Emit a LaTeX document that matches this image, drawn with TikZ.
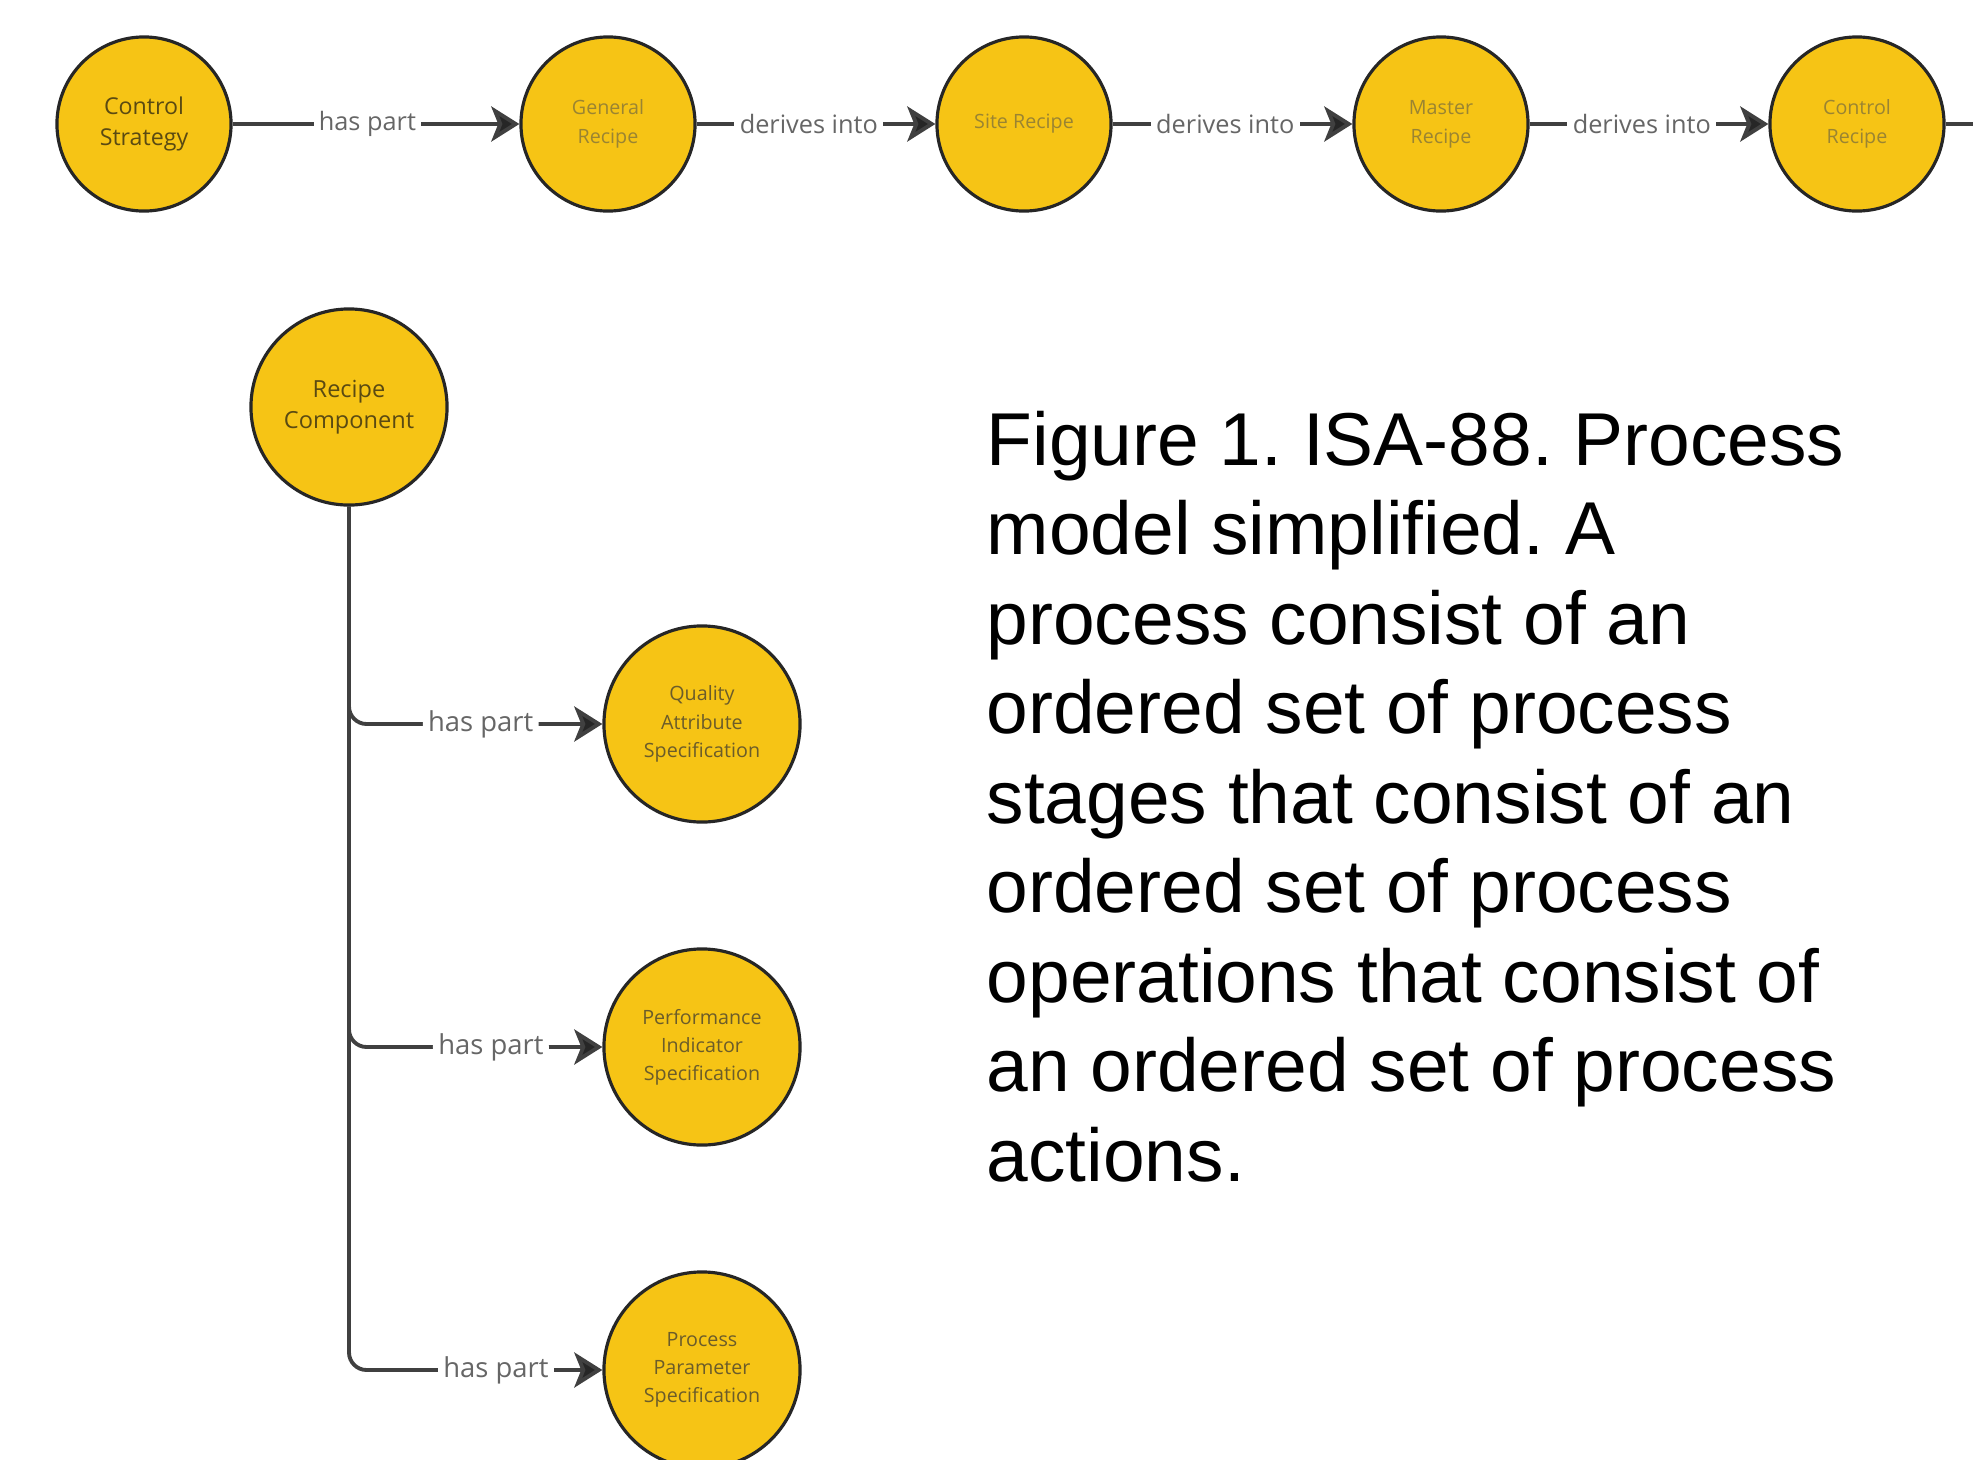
\documentclass[tikz,border=0pt]{standalone}
\usepackage{fontspec}
\setmainfont{Liberation Sans}
\newfontfamily\diagfont{Open Sans}
\usetikzlibrary{arrows.meta}
\definecolor{isayellow}{HTML}{F6C415}
\definecolor{darktext}{HTML}{5A4A12}
\definecolor{softtext}{HTML}{9A8432}
\definecolor{reltext}{HTML}{666666}
\frenchspacing
\begin{document}
\begin{tikzpicture}[x=0.01cm,y=-0.01cm,
    recipe/.style={circle,draw=black!85,line width=0.9pt,fill=isayellow,inner sep=0pt,
      minimum size=1.74cm,align=center,text=softtext,font=\diagfont\fontsize{5.6}{8.3}\selectfont},
    part/.style={recipe,minimum size=1.96cm,text=darktext!90,font=\diagfont\fontsize{5.6}{8}\selectfont},
    link/.style={draw=black!75,line width=1.1pt,-{Stealth[length=8pt,width=10pt,inset=2pt,fill=black!85]}},
    rel/.style={fill=white,text=reltext,inner sep=1.5pt,font=\diagfont\fontsize{7.2}{8}\selectfont}]
  \useasboundingbox (0,0) rectangle (1987,1460);
  % recipe chain
  \node [recipe,text=darktext,font=\diagfont\fontsize{6.6}{8.6}\selectfont] (strategy) at (144,124) {Control\\Strategy};
  \node [recipe] (general) at (608,124) {General\\Recipe};
  \node [recipe] (site) at (1024,124) {Site Recipe};
  \node [recipe] (master) at (1441,124) {Master\\Recipe};
  \node [recipe] (control) at (1857,124) {Control\\Recipe};
  \coordinate (tail) at (1973,124);
  \draw [link] (strategy) -- node [rel,pos=.47] {has part} (general);
  \foreach \a/\b in {general/site,site/master,master/control}
    \draw [link] (\a) -- node [rel,pos=.47] {derives into} (\b);
  \draw [draw=black!75,line width=1.1pt] (control.east) -- (tail);
  % recipe component and its parts
  \node [part,text=darktext,font=\diagfont\fontsize{6.7}{9}\selectfont] (component) at (349,407) {Recipe\\Component};
  \node [part] (quality) at (702,724) {Quality\\Attribute\\Specification};
  \node [part] (performance) at (702,1047) {Performance\\Indicator\\Specification};
  \node [part] (parameter) at (702,1370) {Process\\Parameter\\Specification};
  \foreach \c/\p in {quality/.76,performance/.78,parameter/.79}
    \draw [link,rounded corners=5pt] (component.south) |-
      node [rel,pos=\p,font=\diagfont\fontsize{7.8}{9}\selectfont] {has part} (\c.west);
  % caption
  \foreach \line [count=\i] in {Figure 1. ISA-88. Process,model simplified. A,
      process consist of an,ordered set of process,stages that consist of an,
      ordered set of process,operations that consist of,an ordered set of process,actions.}
    \node [anchor=base west,inner sep=0pt,font=\fontsize{21.3}{24}\selectfont] (cap\i)
      at (986,{465+89.5*(\i-1)}) {\line};
\end{tikzpicture}
\end{document}
